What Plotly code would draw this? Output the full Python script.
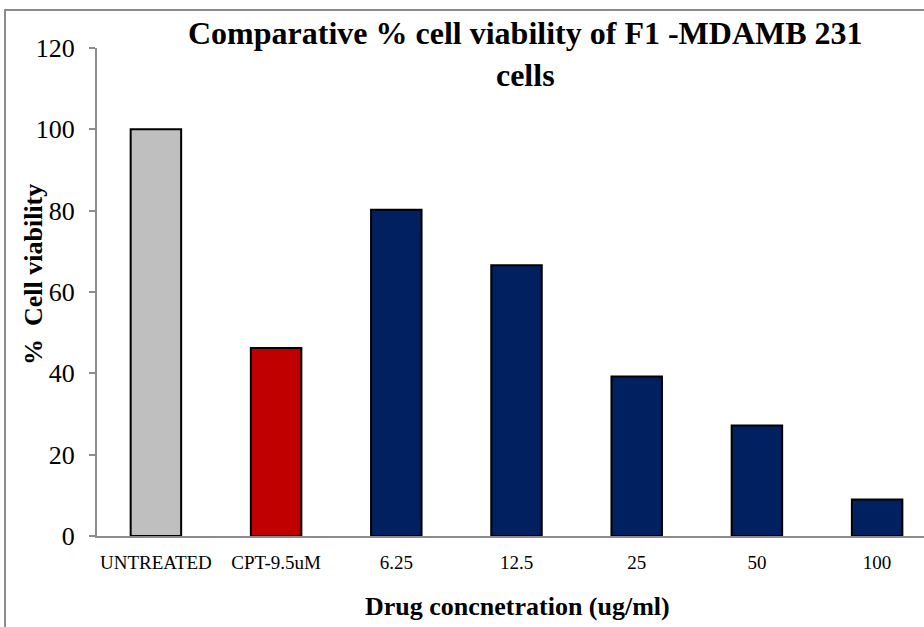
import plotly.graph_objects as go

categories = ["UNTREATED", "CPT-9.5uM", "6.25", "12.5", "25", "50", "100"]
viability = [100, 46.2, 80.2, 66.6, 39.2, 27.2, 9.0]
bar_colors = ["#BFBFBF", "#C00000", "#002060", "#002060", "#002060", "#002060", "#002060"]
y_ticks = [0, 20, 40, 60, 80, 100, 120]

FONT = "Liberation Serif"

fig = go.Figure()
fig.add_trace(go.Bar(
    x=categories, y=viability,
    marker=dict(color=bar_colors, line=dict(color="black", width=2)),
    width=0.42,
))

W, H = 924, 627
L, T = 97, 48
B = H - 536
R = 0
pw, ph = W - L - R, H - T - B

def px_x(p):
    return (p - L) / pw

def px_y(p):
    return (H - B - p) / ph

fig.update_layout(
    width=W, height=H,
    margin=dict(l=L, r=R, t=T, b=B, pad=0),
    paper_bgcolor="white", plot_bgcolor="white",
    showlegend=False,
    font=dict(family=FONT, color="black"),
    xaxis=dict(
        type="category", range=[-0.49, 6.39],
        showline=True, linecolor="#8c8c8c", linewidth=2,
        ticks="", tickfont=dict(size=19, family=FONT),
        ticklabelstandoff=8,
        showgrid=False, zeroline=False,
    ),
    yaxis=dict(
        range=[0, 120], tickvals=y_ticks,
        showline=True, linecolor="#8c8c8c", linewidth=2,
        ticks="outside", ticklen=6, tickcolor="#8c8c8c", tickwidth=2,
        tickfont=dict(size=26, family=FONT),
        ticklabelstandoff=9,
        showgrid=False, zeroline=False,
    ),
    shapes=[dict(
        type="rect", xref="paper", yref="paper",
        x0=px_x(5), x1=px_x(960), y0=px_y(660), y1=px_y(10),
        line=dict(color="#8c8c8c", width=2), fillcolor="rgba(0,0,0,0)", layer="below",
    )],
    annotations=[
        dict(text="Comparative % cell viability of F1 -MDAMB 231<br>cells",
             xref="paper", yref="paper", x=px_x(525), y=px_y(54),
             xanchor="center", yanchor="middle", showarrow=False,
             font=dict(size=32, family=FONT, weight="bold")),
        dict(text="%  Cell viability",
             xref="paper", yref="paper", x=px_x(33), y=px_y(275),
             xanchor="center", yanchor="middle", showarrow=False, textangle=-90,
             font=dict(size=26, family=FONT, weight="bold")),
        dict(text="Drug concnetration (ug/ml)",
             xref="paper", yref="paper", x=px_x(517), y=px_y(606),
             xanchor="center", yanchor="middle", showarrow=False,
             font=dict(size=26, family=FONT, weight="bold")),
    ],
)

fig.write_html("out.html", config={"displayModeBar": False},
               post_script="document.body.style.margin='0';")
